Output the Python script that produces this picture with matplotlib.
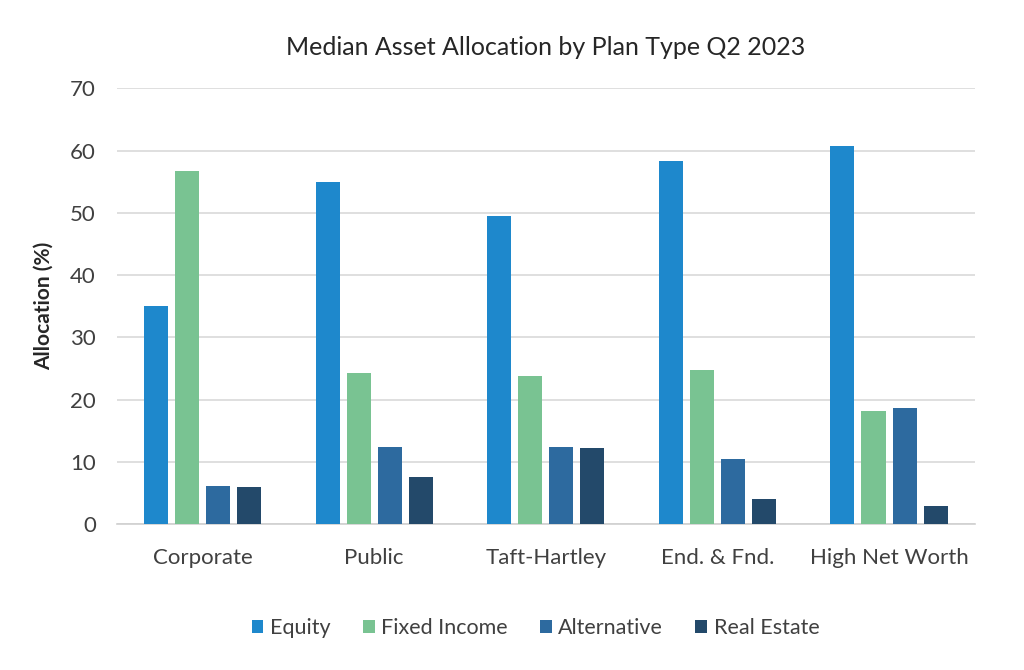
import numpy as np
import matplotlib.pyplot as plt

categories = ["Corporate", "Public", "Taft-Hartley", "End. & Fnd.", "High Net Worth"]
series = ["Equity", "Fixed Income", "Alternative", "Real Estate"]
equity = [35.0, 55.0, 49.5, 58.4, 60.7]
fixed_income = [56.8, 24.2, 23.7, 24.7, 18.2]
alternative = [6.1, 12.4, 12.3, 10.4, 18.7]
real_estate = [5.9, 7.6, 12.2, 4.0, 2.9]
colors = ["#1E88CC", "#79C392", "#2D6A9F", "#23496A"]

plt.rcParams['font.family'] = ['Lato', 'DejaVu Sans']

fig = plt.figure(figsize=(10.24, 6.70), dpi=100)
ax = fig.add_axes([0.114, 0.218, 0.838, 0.650])

x = np.arange(len(categories))
pitch = 0.181
width = 0.14
for i, (vals, name) in enumerate(zip([equity, fixed_income, alternative, real_estate], series)):
    ax.bar(x + (i - 1.5) * pitch, vals, width, color=colors[i], label=name, zorder=3)

ax.set_xlim(-0.5, len(categories) - 0.5)
ax.set_ylim(0, 70)
ax.set_yticks(range(0, 71, 10))
ax.yaxis.grid(True, color="#d9d9d9", linewidth=1.2, zorder=0)
ax.set_axisbelow(True)
for s in ["top", "right", "left"]:
    ax.spines[s].set_visible(False)
ax.spines["bottom"].set_color("#d0d0d0")
ax.spines["bottom"].set_linewidth(1.2)
ax.tick_params(axis="both", length=0, labelsize=16, colors="#404040")
ax.tick_params(axis="x", pad=17)
ax.tick_params(axis="y", pad=15)
ax.set_xticks(x)
ax.set_xticklabels(categories)

ax.set_ylabel("Allocation (%)", fontsize=15, fontweight="bold", color="#262626", labelpad=12)
ax.set_title("Median Asset Allocation by Plan Type Q2 2023", fontsize=18, color="#262626", pad=24)

ax.legend(loc="center", bbox_to_anchor=(0.488, -0.239), ncol=4, frameon=False,
          fontsize=15.5, handlelength=0.55, handleheight=0.55, handletextpad=0.3,
          columnspacing=1.5, labelcolor="#404040")

fig.savefig("out.png", dpi=100)
